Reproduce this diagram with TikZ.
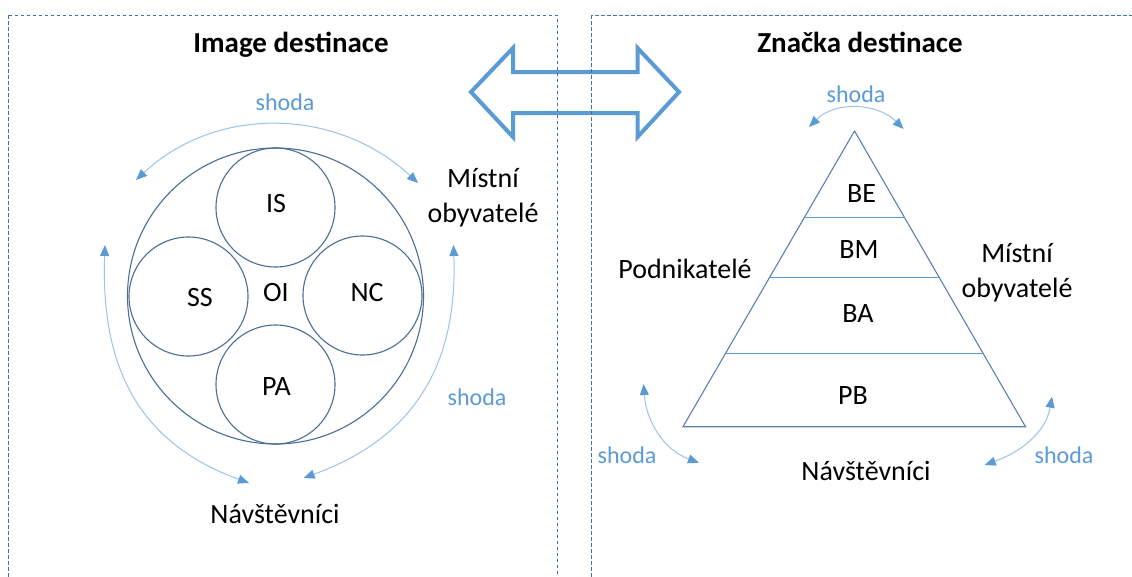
\documentclass[tikz,border=0pt]{standalone}
\usepackage{fontspec}
\setmainfont{Carlito}
\usetikzlibrary{arrows.meta,calc}
\definecolor{frameblue}{HTML}{41719C}
\definecolor{ringblue}{HTML}{4A6E94}
\definecolor{edgeblue}{HTML}{5A82AE}
\definecolor{accent}{HTML}{5B9BD5}
\definecolor{arcblue}{HTML}{9DC3E6}
\begin{document}
\begin{tikzpicture}[x=1pt,y=1pt,
  panel/.style={draw=frameblue, line width=0.9pt, dash pattern=on 3.5pt off 2.5pt},
  heading/.style={font=\fontsize{29}{35}\selectfont\bfseries, inner sep=0pt, anchor=base},
  txt/.style={font=\fontsize{28}{35}\selectfont, inner sep=0pt, anchor=base},
  twoline/.style={font=\fontsize{28}{35}\selectfont, inner sep=0pt, align=center},
  shodatxt/.style={font=\fontsize{24}{28}\selectfont, text=accent, inner sep=0pt, anchor=base},
  ring/.style={circle, draw=ringblue, line width=1.1pt, inner sep=0pt},
  shodaarc/.style={draw=arcblue, line width=1pt,
    {Triangle[length=11pt,width=9pt,color=accent]}-{Triangle[length=11pt,width=9pt,color=accent]}},
  fatarrow/.style={draw=accent, line width=4pt, line join=miter},
  tier/.style={draw=accent, line width=1pt},
  pyramid/.style={draw=edgeblue, line width=1.1pt, line join=miter}
]
\useasboundingbox (0,0) rectangle (1132,-576);
\clip (0,0) rectangle (1132,-576);
\fill[white] (0,0) rectangle (1132,-576);

% two-headed arrow linking the panels
\draw[fatarrow] (471,-92) -- (513,-48) -- (513,-72) -- (637.5,-72) -- (637.5,-48)
  -- (679,-92) -- (637.5,-137) -- (637.5,-113) -- (513,-113) -- (513,-137) -- cycle;

% panel frames
\draw[panel] (8,-15) rectangle (557,-620);
\draw[panel] (591.5,-15) rectangle (1160,-620);

% ---------- left panel: image of the destination ----------
\node[heading] (imgtitle) at (291,-52.7) {Image destinace};

\node[ring, minimum size=296pt] (outer) at (275.5,-296) {};
\node[ring, minimum size=119pt] (is) at (275.5,-207.5) {};
\node[ring, minimum size=119pt] (ss) at (188.5,-296.5) {};
\node[ring, minimum size=119pt] (nc) at (362.5,-295.5) {};
\node[ring, minimum size=119pt] (pa) at (275.5,-384.5) {};

\node[txt] (istxt) at (276,-212) {IS};
\node[txt] (sstxt) at (200,-306.7) {SS};
\node[txt] (oitxt) at (276,-301.7) {OI};
\node[txt] (nctxt) at (367,-301.7) {NC};
\node[txt] (patxt) at (276.5,-395) {PA};

\node[twoline] (locL) at (483,-197.5) {Místní\\obyvatelé};
\node[txt] (visL) at (275,-523) {Návštěvníci};

\node[shodatxt] (shTopL) at (285,-110) {shoda};
\node[shodatxt] (shSideL) at (477,-405) {shoda};

\coordinate (aTopS) at (136,-180);
\coordinate (aTopE) at (418,-183);
\coordinate (aLeftS) at (105,-245);
\coordinate (aLeftE) at (249,-483);
\coordinate (aRightS) at (453.5,-245);
\coordinate (aRightE) at (303.6,-478);

\draw[shodaarc] (aTopS) to[out=43, in=137] (aTopE);
\draw[shodaarc] (aLeftS) to[out=-92, in=160, looseness=1.1] (aLeftE);
\draw[shodaarc] (aRightS) to[out=-88, in=20, looseness=1.1] (aRightE);

% ---------- right panel: brand of the destination ----------
\node[heading] (brandtitle) at (860,-52.7) {Značka destinace};

\coordinate (apex) at (854.5,-131);
\coordinate (bl) at (683,-426.7);
\coordinate (br) at (1025.5,-426.7);
\draw[pyramid] (apex) -- (bl) -- (br) -- cycle;

\draw[tier] ($(apex)!0.294!(bl)$) -- ($(apex)!0.294!(br)$);
\draw[tier] ($(apex)!0.496!(bl)$) -- ($(apex)!0.496!(br)$);
\draw[tier] ($(apex)!0.752!(bl)$) -- ($(apex)!0.752!(br)$);

\node[txt] (be) at (861.5,-202) {BE};
\node[txt] (bm) at (859,-258) {BM};
\node[txt] (ba) at (858,-322.7) {BA};
\node[txt] (pb) at (853,-404) {PB};

\node[txt] (entre) at (685,-278) {Podnikatelé};
\node[twoline] (locR) at (1017,-272.8) {Místní\\obyvatelé};
\node[txt] (visR) at (866,-480) {Návštěvníci};

\node[shodatxt] (shTopR) at (856,-102) {shoda};
\node[shodatxt] (shLowL) at (627,-463) {shoda};
\node[shodatxt] (shLowR) at (1064,-463) {shoda};

\coordinate (bTopS) at (809,-127);
\coordinate (bTopE) at (903.6,-129);
\coordinate (bLeftS) at (643.6,-384);
\coordinate (bLeftE) at (699,-462.7);
\coordinate (bRightS) at (1052,-396.7);
\coordinate (bRightE) at (984.7,-465);

\draw[shodaarc] (bTopS) to[out=45, in=135] (bTopE);
\draw[shodaarc] (bLeftS) to[out=-86, in=160] (bLeftE);
\draw[shodaarc] (bRightS) to[out=-100, in=20] (bRightE);
\end{tikzpicture}
\end{document}
